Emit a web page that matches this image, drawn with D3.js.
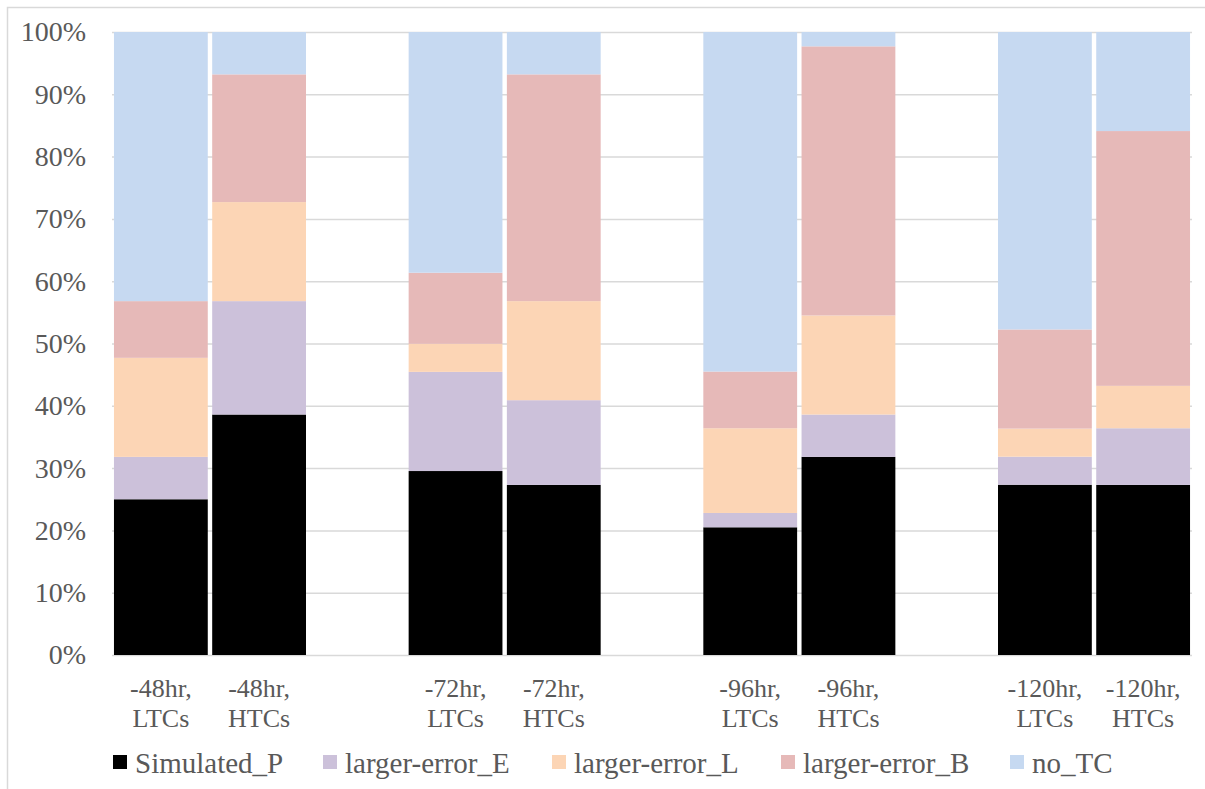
<!DOCTYPE html>
<html>
<head>
<meta charset="utf-8">
<script src="https://cdn.jsdelivr.net/npm/d3@7"></script>
</head>
<body style="margin:0;background:#fff">
<svg id="tc-bars" width="1205" height="789"></svg>
<script>
// Category slots; empty strings are spacer slots between groups
const categories = ["-48hr, LTCs", "-48hr, HTCs", "", "-72hr, LTCs", "-72hr, HTCs", "",
                    "-96hr, LTCs", "-96hr, HTCs", "", "-120hr, LTCs", "-120hr, HTCs"];
const seriesNames = ["Simulated_P", "larger-error_E", "larger-error_L", "larger-error_B", "no_TC"];
const seriesColors = ["#000000", "#CCC1DA", "#FCD5B5", "#E6B9B8", "#C6D9F1"];

// Share (%) of each outcome per bar, bottom to top; null for spacer slots
const simulatedP  = [25.0, 38.6, null, 29.5, 27.3, null, 20.5, 31.8, null, 27.3, 27.3];
const errorE      = [ 6.8, 18.2, null, 15.9, 13.6, null,  2.3,  6.8, null,  4.5,  9.1];
const errorL      = [15.9, 15.9, null,  4.5, 15.9, null, 13.6, 15.9, null,  4.5,  6.8];
const errorB      = [ 9.1, 20.5, null, 11.4, 36.4, null,  9.1, 43.2, null, 15.9, 40.9];
const noTC        = [43.2,  6.8, null, 38.6,  6.8, null, 54.5,  2.3, null, 47.7, 15.9];
const yTicks = [0, 0.1, 0.2, 0.3, 0.4, 0.5, 0.6, 0.7, 0.8, 0.9, 1.0];

const TEXT_COLOR = "#595959";
const serifFont = size => `${size}px "Times New Roman", "Liberation Serif", serif`;

const seriesValues = [simulatedP, errorE, errorL, errorB, noTC];
const rows = categories.map((c, i) => {
  const r = { idx: i, label: c };
  seriesNames.forEach((s, k) => { r[s] = seriesValues[k][i] || 0; });
  return r;
}).filter(r => r.label !== "");

const svg = d3.select("#tc-bars");

// Outer chart frame
svg.append("rect")
  .attr("x", 7.5).attr("y", 7.5)
  .attr("width", 1230).attr("height", 820)
  .attr("fill", "none").attr("stroke", "#d9d9d9").attr("stroke-width", 1.5);

const plot = { left: 112, right: 1192, top: 32, bottom: 655 };

const x = d3.scaleBand()
  .domain(categories.map((_, i) => i))
  .range([plot.left, plot.right])
  .paddingInner(0.045)
  .paddingOuter(0.02);

const y = d3.scaleLinear().domain([0, 1]).range([plot.bottom, plot.top]);

// Gridlines + y labels
const yAxis = svg.append("g")
  .attr("transform", `translate(${plot.left},0)`)
  .call(d3.axisLeft(y)
    .tickValues(yTicks)
    .tickFormat(d3.format(".0%"))
    .tickSizeInner(-(plot.right - plot.left))
    .tickSizeOuter(0)
    .tickPadding(26));
yAxis.attr("font-family", null).attr("font-size", null);
yAxis.select(".domain").remove();
yAxis.selectAll(".tick line").attr("stroke", "#d9d9d9").attr("stroke-width", 1.5);
yAxis.selectAll(".tick text")
  .style("font", serifFont(28))
  .attr("fill", TEXT_COLOR);

// Stacked bars (100% stacked)
const stack = d3.stack().keys(seriesNames).offset(d3.stackOffsetExpand);
const layers = stack(rows);

svg.append("g").selectAll("g")
  .data(layers)
  .join("g")
  .attr("fill", (d, i) => seriesColors[i])
  .selectAll("rect")
  .data(d => d)
  .join("rect")
  .attr("x", d => x(d.data.idx))
  .attr("width", x.bandwidth())
  .attr("y", d => y(d[1]))
  .attr("height", d => y(d[0]) - y(d[1]));

// Category labels, two lines each
const xAxis = svg.append("g")
  .attr("transform", `translate(0,${plot.bottom})`)
  .call(d3.axisBottom(x)
    .tickFormat(i => categories[i])
    .tickSize(0));
xAxis.attr("font-family", null).attr("font-size", null);
xAxis.select(".domain").remove();
xAxis.selectAll(".tick").filter(i => categories[i] === "").remove();
xAxis.selectAll(".tick text").each(function (i) {
  const parts = categories[i].split(", ");
  const t = d3.select(this)
    .text(null)
    .style("font", serifFont(26))
    .attr("y", 0)
    .attr("dy", null)
    .attr("fill", TEXT_COLOR);
  parts.forEach((p, k) => {
    t.append("tspan")
      .attr("x", 0)
      .attr("y", 42 + k * 30)
      .text(k < parts.length - 1 ? p + "," : p);
  });
});

// Legend
const legendX = [113, 323, 552, 781, 1010];
const legend = svg.append("g").selectAll("g")
  .data(seriesNames)
  .join("g")
  .attr("transform", (d, i) => `translate(${legendX[i]},755)`);
legend.append("rect")
  .attr("width", 14).attr("height", 14)
  .attr("fill", (d, i) => seriesColors[i]);
legend.append("text")
  .style("font", serifFont(29))
  .attr("x", 22).attr("y", 18)
  .attr("fill", TEXT_COLOR)
  .text(d => d);
</script>
</body>
</html>
